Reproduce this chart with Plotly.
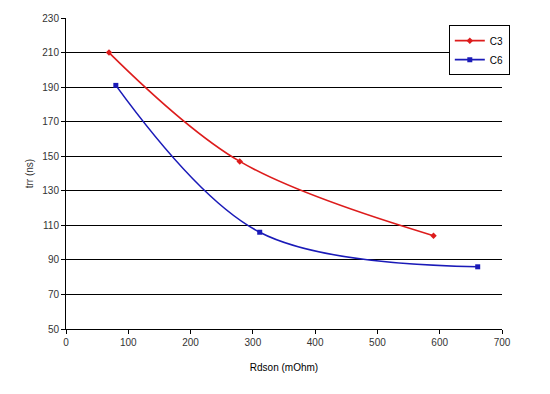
import plotly.graph_objects as go

c3_x = [69, 279, 590]
c3_y = [210, 147, 104]
c6_x = [80, 311, 661]
c6_y = [191, 106, 86]
x_ticks = [0, 100, 200, 300, 400, 500, 600, 700]
y_ticks = [50, 70, 90, 110, 130, 150, 170, 190, 210, 230]

fig = go.Figure()
fig.add_trace(go.Scatter(x=c3_x, y=c3_y, name="C3", mode="lines+markers",
                         line=dict(color="#dd1c1c", width=1.6, shape="spline", smoothing=1.0),
                         marker=dict(symbol="diamond", size=5, color="#dd1c1c")))
fig.add_trace(go.Scatter(x=c6_x, y=c6_y, name="C6", mode="lines+markers",
                         line=dict(color="#1a1ab8", width=1.6, shape="spline", smoothing=1.0),
                         marker=dict(symbol="square", size=5, color="#1a1ab8")))

fig.update_layout(
    width=550, height=394,
    margin=dict(l=58, r=56, t=10, b=73, autoexpand=False),
    paper_bgcolor="white", plot_bgcolor="white",
    font=dict(family="Liberation Sans, Arial, sans-serif", size=10, color="#333"),
    showlegend=True,
    legend=dict(x=0.878, y=0.977, xanchor="left", yanchor="top",
                bgcolor="white", bordercolor="black", borderwidth=1,
                font=dict(size=10, color="black"), tracegroupgap=0,
                itemwidth=30),
    xaxis=dict(range=[0, 700], tickvals=x_ticks, showgrid=False, zeroline=False,
               showline=True, linecolor="black", linewidth=1,
               ticks="outside", ticklen=4, tickcolor="black",
               title=dict(text="Rdson (mOhm)", font=dict(size=10, color="black"), standoff=16)),
    yaxis=dict(range=[50, 230], tickvals=y_ticks, showgrid=True, gridcolor="black", gridwidth=1,
               zeroline=False, showline=True, linecolor="black", linewidth=1,
               ticks="outside", ticklen=4, tickcolor="black",
               title=dict(text="trr (ns)", font=dict(size=10, color="#333"), standoff=6)),
)
fig.write_html("out.html")
